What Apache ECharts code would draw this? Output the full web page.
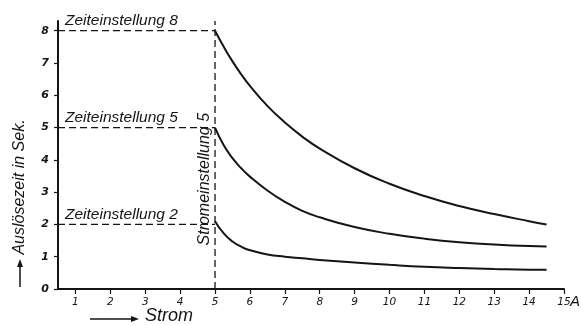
<!DOCTYPE html>
<html>
<head>
<meta charset="utf-8">
<script src="https://cdn.jsdelivr.net/npm/echarts@6/dist/echarts.min.js"></script>
<style>
  html, body { margin: 0; padding: 0; background: #fff; }
  #chart { width: 581px; height: 325px; }
</style>
</head>
<body>
<div id="chart"></div>
<script>
// ---- data ----
const current = [5, 5.25, 5.5, 5.75, 6, 6.5, 7, 7.5, 8, 9, 10, 11, 12, 13, 14, 14.5];
const time8 = [8.0, 7.5, 7.05, 6.65, 6.29, 5.67, 5.16, 4.72, 4.35, 3.74, 3.26, 2.88, 2.57, 2.32, 2.1, 2.0];
const time5 = [5.0, 4.45, 4.05, 3.74, 3.48, 3.05, 2.7, 2.42, 2.22, 1.92, 1.71, 1.56, 1.45, 1.38, 1.33, 1.32];
const time2 = [2.1, 1.72, 1.47, 1.31, 1.2, 1.07, 1.0, 0.95, 0.9, 0.82, 0.75, 0.69, 0.65, 0.62, 0.6, 0.6];
const timeSettings = [8, 5, 2];
const timeLabels = ['Zeiteinstellung 8', 'Zeiteinstellung 5', 'Zeiteinstellung 2'];
const currentSetting = 5;
const currentLabel = 'Stromeinstellung 5';
const xTicks = [1, 2, 3, 4, 5, 6, 7, 8, 9, 10, 11, 12, 13, 14, 15];
const yTicks = [0, 1, 2, 3, 4, 5, 6, 7, 8];
const xMin = 0.5, xMax = 15, yMin = 0, yMax = 8.3;
const yName = 'Auslösezeit in Sek.';
const xName = 'Strom';
const unitName = 'A';

const INK = '#151515';
const chart = echarts.init(document.getElementById('chart'), null, { renderer: 'canvas' });

function pairs(xs, ys) { return xs.map((x, i) => [x, ys[i]]); }

const curveStyle = { color: INK, width: 2 };
const dashStyle = { color: INK, width: 1.3, type: [7, 4] };

const series = [];
[time8, time5, time2].forEach(ys => {
  series.push({
    type: 'line', data: pairs(current, ys), smooth: 0.5,
    showSymbol: false, lineStyle: curveStyle, silent: true, clip: false
  });
});
timeSettings.forEach(t => {
  series.push({
    type: 'line', data: [[xMin, t], [currentSetting, t]], showSymbol: false,
    lineStyle: dashStyle, silent: true
  });
});
series.push({
  type: 'line', data: [[currentSetting, yMin], [currentSetting, yMax]], showSymbol: false,
  lineStyle: dashStyle, silent: true
});

const labelFont = { fontFamily: 'DejaVu Sans', fontStyle: 'italic', fontSize: 10.5, color: INK };

chart.setOption({
  animation: false,
  backgroundColor: '#fff',
  grid: { left: 58, right: 17, top: 21, bottom: 36 },
  xAxis: {
    type: 'value', min: xMin, max: xMax,
    axisLine: { show: true, lineStyle: { color: INK, width: 2 } },
    axisTick: { show: true, length: 5, customValues: xTicks, lineStyle: { color: INK, width: 1.2 } },
    axisLabel: Object.assign({ customValues: xTicks, margin: 8 }, labelFont),
    splitLine: { show: false }
  },
  yAxis: {
    type: 'value', min: yMin, max: yMax,
    axisLine: { show: true, lineStyle: { color: INK, width: 2 } },
    axisTick: { show: true, length: 4, customValues: yTicks, lineStyle: { color: INK, width: 1.2 } },
    axisLabel: Object.assign({ customValues: yTicks, margin: 9, fontWeight: 'bold' }, labelFont, { fontSize: 11 }),
    splitLine: { show: false }
  },
  series: series
});

// ---- annotations positioned through the axes ----
const P = (x, y) => chart.convertToPixel({ gridIndex: 0 }, [x, y]);
const annFont = 'italic 15.5px "Liberation Sans"';
const graphics = [];
timeSettings.forEach((t, i) => {
  const p = P(xMin, t);
  graphics.push({
    type: 'text', x: p[0] + 7, y: p[1] - 2,
    style: { text: timeLabels[i], font: annFont, fill: INK, align: 'left', verticalAlign: 'bottom', textAlign: 'left', textVerticalAlign: 'bottom' }
  });
});
const pc = P(currentSetting, 3.4);
graphics.push({
  type: 'text', x: pc[0] - 10, y: pc[1], rotation: Math.PI / 2,
  style: { text: currentLabel, font: 'italic 16px "Liberation Sans"', fill: INK, align: 'center', verticalAlign: 'middle', textAlign: 'center', textVerticalAlign: 'middle' }
});
// y-axis name with arrow
const origin = P(xMin, yMin);
const yx = origin[0] - 38;
graphics.push({
  type: 'line', shape: { x1: yx, y1: origin[1] - 2, x2: yx, y2: origin[1] - 24 },
  style: { stroke: INK, lineWidth: 1.5 }
});
graphics.push({
  type: 'polygon', shape: { points: [[yx, origin[1] - 30], [yx - 3, origin[1] - 22], [yx + 3, origin[1] - 22]] },
  style: { fill: INK }
});
graphics.push({
  type: 'text', x: yx, y: origin[1] - 102, rotation: Math.PI / 2,
  style: { text: yName, font: 'italic 16px "Liberation Sans"', fill: INK, align: 'center', verticalAlign: 'middle', textAlign: 'center', textVerticalAlign: 'middle' }
});
// x-axis name with arrow
const ay = origin[1] + 30;
graphics.push({
  type: 'line', shape: { x1: origin[0] + 32, y1: ay, x2: origin[0] + 75, y2: ay },
  style: { stroke: INK, lineWidth: 1.5 }
});
graphics.push({
  type: 'polygon', shape: { points: [[origin[0] + 81, ay], [origin[0] + 73, ay - 3], [origin[0] + 73, ay + 3]] },
  style: { fill: INK }
});
graphics.push({
  type: 'text', x: origin[0] + 87, y: ay - 3,
  style: { text: xName, font: 'italic 18px "Liberation Sans"', fill: INK, align: 'left', verticalAlign: 'middle', textAlign: 'left', textVerticalAlign: 'middle' }
});
const pe = P(xMax, yMin);
graphics.push({
  type: 'text', x: pe[0] + 6, y: pe[1] + 13,
  style: { text: unitName, font: 'italic 15px "Liberation Sans"', fill: INK, align: 'left', verticalAlign: 'middle', textAlign: 'left', textVerticalAlign: 'middle' }
});
chart.setOption({ graphic: graphics });
</script>
</body>
</html>
